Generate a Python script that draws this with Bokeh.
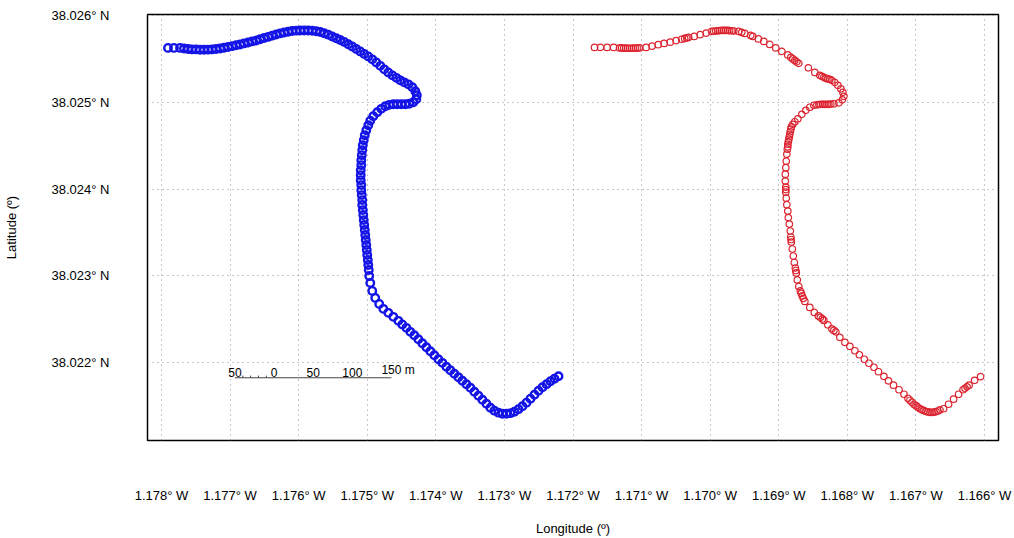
import math
from bokeh.plotting import figure
from bokeh.models import Range1d, FixedTicker, CustomJSTickFormatter, ColumnDataSource
from bokeh.core.properties import value
from bokeh.embed import file_html
from bokeh.resources import INLINE

# ---- data -------------------------------------------------------------
x_ticks = [-1.178, -1.177, -1.176, -1.175, -1.174, -1.173, -1.172,
           -1.171, -1.170, -1.169, -1.168, -1.167, -1.166]
y_ticks = [38.022, 38.023, 38.024, 38.025, 38.026]

blue_lon = [
    -1.177905, -1.177818, -1.177730, -1.177672, -1.177613, -1.177555, -1.177496, -1.177438,
    -1.177380, -1.177321, -1.177263, -1.177204, -1.177146, -1.177088, -1.177029, -1.176971,
    -1.176912, -1.176854, -1.176796, -1.176737, -1.176679, -1.176620, -1.176562, -1.176504,
    -1.176445, -1.176387, -1.176328, -1.176270, -1.176212, -1.176153, -1.176095, -1.176036,
    -1.175978, -1.175920, -1.175861, -1.175803, -1.175744, -1.175686, -1.175628, -1.175569,
    -1.175511, -1.175452, -1.175394, -1.175336, -1.175277, -1.175219, -1.175160, -1.175102,
    -1.175044, -1.174985, -1.174927, -1.174868, -1.174810, -1.174752, -1.174693, -1.174635,
    -1.174576, -1.174518, -1.174460, -1.174401, -1.174343, -1.174299, -1.174277, -1.174284,
    -1.174328, -1.174387, -1.174445, -1.174503, -1.174562, -1.174620, -1.174679, -1.174737,
    -1.174795, -1.174854, -1.174912, -1.174956, -1.174985, -1.175014, -1.175036, -1.175051,
    -1.175065, -1.175073, -1.175080, -1.175087, -1.175087, -1.175095, -1.175095, -1.175095,
    -1.175087, -1.175087, -1.175080, -1.175073, -1.175073, -1.175065, -1.175058, -1.175051,
    -1.175044, -1.175036, -1.175029, -1.175022, -1.175014, -1.175007, -1.175000, -1.174992,
    -1.174985, -1.174978, -1.174971, -1.174956, -1.174927, -1.174883, -1.174825, -1.174766,
    -1.174693, -1.174620, -1.174547, -1.174489, -1.174430, -1.174372, -1.174314, -1.174255,
    -1.174197, -1.174138, -1.174080, -1.174022, -1.173963, -1.173905, -1.173846, -1.173788,
    -1.173730, -1.173671, -1.173613, -1.173554, -1.173496, -1.173438, -1.173379, -1.173321,
    -1.173262, -1.173204, -1.173146, -1.173087, -1.173029, -1.172970, -1.172912, -1.172854,
    -1.172795, -1.172737, -1.172678, -1.172620, -1.172562, -1.172503, -1.172445, -1.172386,
    -1.172328, -1.172270, -1.172211]
blue_lat = [
    38.025627, 38.025627, 38.025627, 38.025621, 38.025615, 38.025610, 38.025610, 38.025606,
    38.025606, 38.025607, 38.025610, 38.025615, 38.025621, 38.025629, 38.025638, 38.025647,
    38.025658, 38.025667, 38.025679, 38.025690, 38.025702, 38.025713, 38.025727, 38.025741,
    38.025754, 38.025768, 38.025782, 38.025794, 38.025805, 38.025814, 38.025821, 38.025826,
    38.025828, 38.025828, 38.025828, 38.025825, 38.025819, 38.025810, 38.025796, 38.025780,
    38.025759, 38.025738, 38.025718, 38.025696, 38.025670, 38.025644, 38.025615, 38.025587,
    38.025558, 38.025529, 38.025495, 38.025460, 38.025420, 38.025380, 38.025345, 38.025311,
    38.025282, 38.025253, 38.025230, 38.025207, 38.025173, 38.025127, 38.025081, 38.025035,
    38.025000, 38.024983, 38.024977, 38.024977, 38.024977, 38.024977, 38.024971, 38.024954,
    38.024925, 38.024885, 38.024839, 38.024787, 38.024736, 38.024678, 38.024621, 38.024563,
    38.024506, 38.024448, 38.024391, 38.024333, 38.024276, 38.024218, 38.024161, 38.024103,
    38.024046, 38.023988, 38.023931, 38.023873, 38.023816, 38.023758, 38.023701, 38.023643,
    38.023586, 38.023528, 38.023471, 38.023413, 38.023356, 38.023298, 38.023241, 38.023183,
    38.023126, 38.023068, 38.022999, 38.022918, 38.022827, 38.022746, 38.022677, 38.022620,
    38.022574, 38.022528, 38.022482, 38.022441, 38.022401, 38.022355, 38.022315, 38.022269,
    38.022223, 38.022177, 38.022131, 38.022085, 38.022039, 38.021998, 38.021952, 38.021912,
    38.021872, 38.021832, 38.021791, 38.021751, 38.021711, 38.021665, 38.021619, 38.021573,
    38.021527, 38.021481, 38.021447, 38.021424, 38.021412, 38.021412, 38.021418, 38.021435,
    38.021464, 38.021498, 38.021539, 38.021585, 38.021631, 38.021677, 38.021717, 38.021751,
    38.021786, 38.021815, 38.021843]

red_lon = [
    -1.171686, -1.171598, -1.171503, -1.171408, -1.171321, -1.171291, -1.171262, -1.171233,
    -1.171204, -1.171175, -1.171145, -1.171116, -1.171087, -1.171058, -1.171029, -1.170934,
    -1.170846, -1.170758, -1.170671, -1.170583, -1.170496, -1.170415, -1.170372, -1.170342,
    -1.170313, -1.170233, -1.170145, -1.170058, -1.169977, -1.169948, -1.169919, -1.169890,
    -1.169861, -1.169831, -1.169802, -1.169773, -1.169744, -1.169715, -1.169685, -1.169656,
    -1.169583, -1.169539, -1.169496, -1.169408, -1.169379, -1.169298, -1.169218, -1.169131,
    -1.169043, -1.168955, -1.168868, -1.168824, -1.168795, -1.168766, -1.168736, -1.168707,
    -1.168568, -1.168474, -1.168401, -1.168371, -1.168342, -1.168313, -1.168284, -1.168255,
    -1.168225, -1.168182, -1.168138, -1.168094, -1.168065, -1.168050, -1.168072, -1.168123,
    -1.168196, -1.168240, -1.168269, -1.168298, -1.168328, -1.168357, -1.168386, -1.168415,
    -1.168444, -1.168488, -1.168547, -1.168605, -1.168663, -1.168722, -1.168766, -1.168795,
    -1.168817, -1.168824, -1.168831, -1.168839, -1.168846, -1.168853, -1.168860, -1.168868,
    -1.168868, -1.168875, -1.168882, -1.168890, -1.168897, -1.168904, -1.168904, -1.168897,
    -1.168897, -1.168897, -1.168890, -1.168882, -1.168868, -1.168860, -1.168846, -1.168831,
    -1.168824, -1.168820, -1.168817, -1.168802, -1.168787, -1.168773, -1.168758, -1.168751,
    -1.168744, -1.168729, -1.168707, -1.168685, -1.168671, -1.168656, -1.168641, -1.168620,
    -1.168547, -1.168481, -1.168422, -1.168393, -1.168364, -1.168342, -1.168284, -1.168225,
    -1.168196, -1.168167, -1.168109, -1.168036, -1.167963, -1.167890, -1.167824, -1.167751,
    -1.167685, -1.167612, -1.167546, -1.167466, -1.167400, -1.167327, -1.167247, -1.167174,
    -1.167116, -1.167087, -1.167057, -1.167028, -1.166999, -1.166970, -1.166941, -1.166911,
    -1.166882, -1.166853, -1.166824, -1.166795, -1.166765, -1.166736, -1.166707, -1.166678,
    -1.166649, -1.166597, -1.166524, -1.166451, -1.166378, -1.166313, -1.166284, -1.166254,
    -1.166225, -1.166145, -1.166057]
red_lat = [
    38.025633, 38.025633, 38.025633, 38.025633, 38.025627, 38.025627, 38.025624, 38.025624,
    38.025623, 38.025623, 38.025623, 38.025624, 38.025624, 38.025626, 38.025627, 38.025633,
    38.025647, 38.025664, 38.025679, 38.025693, 38.025711, 38.025727, 38.025736, 38.025742,
    38.025748, 38.025759, 38.025779, 38.025797, 38.025817, 38.025819, 38.025822, 38.025825,
    38.025826, 38.025828, 38.025828, 38.025828, 38.025828, 38.025826, 38.025825, 38.025822,
    38.025817, 38.025805, 38.025794, 38.025771, 38.025759, 38.025730, 38.025702, 38.025667,
    38.025627, 38.025587, 38.025546, 38.025518, 38.025500, 38.025483, 38.025466, 38.025449,
    38.025397, 38.025345, 38.025311, 38.025299, 38.025288, 38.025276, 38.025270, 38.025265,
    38.025253, 38.025230, 38.025196, 38.025155, 38.025115, 38.025069, 38.025029, 38.024994,
    38.024983, 38.024979, 38.024977, 38.024977, 38.024977, 38.024977, 38.024977, 38.024975,
    38.024971, 38.024966, 38.024943, 38.024908, 38.024862, 38.024810, 38.024776, 38.024747,
    38.024718, 38.024690, 38.024661, 38.024632, 38.024603, 38.024575, 38.024546, 38.024517,
    38.024488, 38.024460, 38.024402, 38.024322, 38.024247, 38.024172, 38.024092, 38.024023,
    38.023994, 38.023965, 38.023896, 38.023821, 38.023747, 38.023672, 38.023597, 38.023517,
    38.023448, 38.023419, 38.023390, 38.023310, 38.023229, 38.023154, 38.023091, 38.023062,
    38.023034, 38.022953, 38.022878, 38.022827, 38.022798, 38.022769, 38.022740, 38.022706,
    38.022637, 38.022579, 38.022539, 38.022522, 38.022504, 38.022487, 38.022436, 38.022390,
    38.022372, 38.022355, 38.022292, 38.022234, 38.022188, 38.022137, 38.022091, 38.022039,
    38.021993, 38.021947, 38.021895, 38.021843, 38.021791, 38.021740, 38.021688, 38.021636,
    38.021590, 38.021567, 38.021544, 38.021521, 38.021504, 38.021487, 38.021469, 38.021458,
    38.021447, 38.021437, 38.021432, 38.021427, 38.021427, 38.021429, 38.021435, 38.021443,
    38.021455, 38.021469, 38.021521, 38.021579, 38.021636, 38.021688, 38.021705, 38.021722,
    38.021740, 38.021797, 38.021838]

# scale bar (metres) and its labels
scale_marks_m = [-50, 0, 50, 100, 150]
scale_labels = ["50", "0", "50", "100", "150 m"]
scale_minor_m = [-40, -30, -20, -10]
scale_origin = (-1.176358, 38.021826)   # lon/lat of the "0" mark

FONT = "Liberation Sans"

p = figure(width=1014, height=538,
           x_range=Range1d(-1.178204, -1.165796),
           y_range=Range1d(38.021103, 38.026012),
           output_backend="svg", toolbar_location=None,
           min_border_left=147, min_border_right=16,
           min_border_top=14, min_border_bottom=98)

p.background_fill_color = "white"
p.border_fill_color = "white"
p.outline_line_color = "black"
p.outline_line_width = 1.5

# axes
p.xaxis.ticker = FixedTicker(ticks=x_ticks)
p.yaxis.ticker = FixedTicker(ticks=y_ticks)
p.xaxis.formatter = CustomJSTickFormatter(code="return Math.abs(tick).toFixed(3) + '\u00b0 W';")
p.yaxis.formatter = CustomJSTickFormatter(code="return tick.toFixed(3) + '\u00b0 N';")
for ax in (p.xaxis, p.yaxis):
    ax.axis_line_color = None
    ax.major_tick_line_color = None
    ax.minor_tick_line_color = None
    ax.major_tick_in = 0
    ax.major_tick_out = 0
    ax.minor_tick_in = 0
    ax.minor_tick_out = 0
    ax.major_label_text_font = FONT
    ax.major_label_text_font_size = "13px"
    ax.major_label_text_color = "black"
    ax.axis_label_text_font = FONT
    ax.axis_label_text_font_size = "13px"
    ax.axis_label_text_font_style = "normal"
    ax.axis_label_text_color = "black"
p.xaxis.major_label_standoff = 47
p.xaxis.axis_label = "Longitude (\u00ba)"
p.xaxis.axis_label_standoff = 15
p.yaxis.major_label_standoff = 38
p.yaxis.major_label_orientation = "horizontal"
p.yaxis.axis_label = "Latitude (\u00ba)"
p.yaxis.axis_label_standoff = 30

# grid
for g in (p.xgrid, p.ygrid):
    g.grid_line_color = "#909090"
    g.grid_line_dash = "1 4"
    g.grid_line_width = 1

# tracks
p.scatter(blue_lon, blue_lat, marker="circle", size=7.5, fill_color=None,
          line_color="#1414e6", line_width=2.4)
p.scatter(red_lon, red_lat, marker="circle", size=6.5, fill_color=None,
          line_color="#dc2430", line_width=1.2)

# scale bar
lon0, lat0 = scale_origin
m_per_deg = 111320.0 * math.cos(math.radians(lat0))
mark_lon = [lon0 + m / m_per_deg for m in scale_marks_m]
p.line([mark_lon[0], mark_lon[-1]], [lat0, lat0], line_color="#444444", line_width=1)
minor_lon = [lon0 + m / m_per_deg for m in scale_minor_m]
p.segment(x0=minor_lon, y0=[lat0] * len(minor_lon), x1=minor_lon,
          y1=[lat0 + 0.000025] * len(minor_lon), line_color="#444444", line_width=1)
src = ColumnDataSource(dict(x=mark_lon[:-1], y=[lat0] * 4, t=scale_labels[:-1]))
p.text(x="x", y="y", text="t", source=src, text_font=value(FONT),
       text_font_size="12px", text_align="center", text_baseline="bottom",
       text_color="black", y_offset=-1)
p.text(x=[mark_lon[-1]], y=[lat0], text=[scale_labels[-1]], text_font=value(FONT),
       text_font_size="12px", text_align="left", text_baseline="bottom",
       text_color="black", x_offset=-10, y_offset=-1)

open("out.html", "w").write(file_html(p, INLINE))
